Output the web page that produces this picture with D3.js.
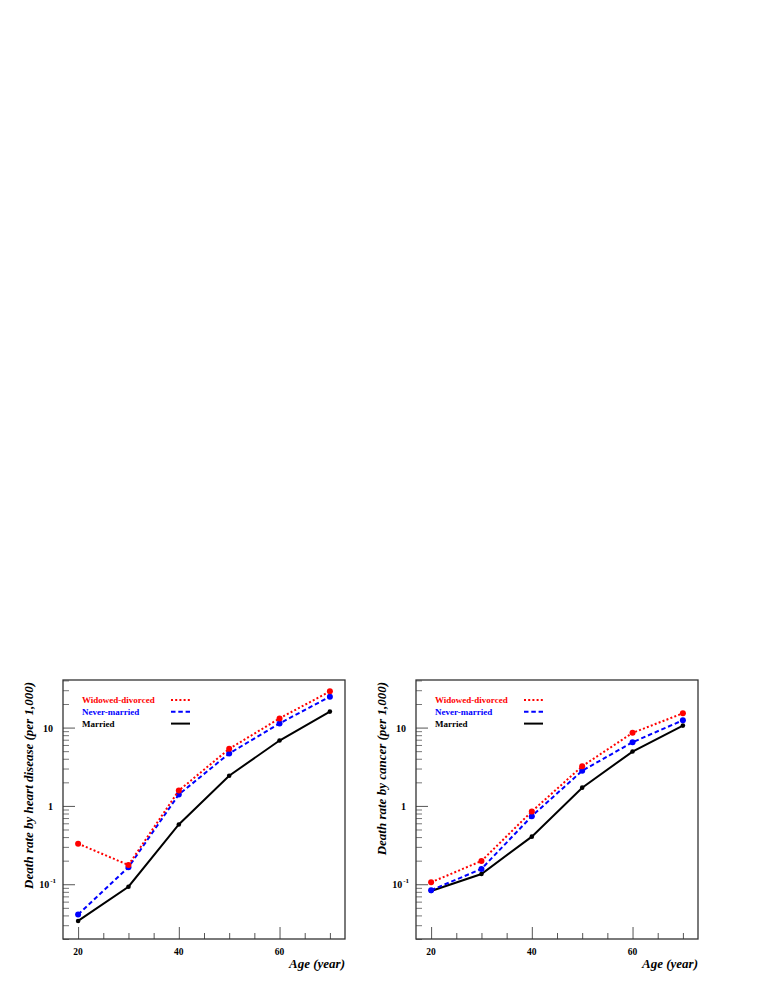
<!DOCTYPE html>
<html><head><meta charset="utf-8">
<script src="https://cdn.jsdelivr.net/npm/d3@7"></script>
<style>
body{margin:0;background:#fff;}
svg{display:block;}
text{font-family:"Liberation Serif","Times New Roman",serif;}
</style></head>
<body>
<script>
const ages = [20, 30, 40, 50, 60, 70];
const seriesNames = ["Widowed-divorced", "Never-married", "Married"];
// Heart disease death rate (per 1,000)
const heartWidowed = [0.33, 0.176, 1.57, 5.35, 13.1, 29.0];
const heartNever   = [0.041, 0.165, 1.40, 4.67, 11.3, 24.8];
const heartMarried = [0.034, 0.093, 0.58, 2.43, 6.83, 16.0];
// Cancer death rate (per 1,000)
const cancerWidowed = [0.106, 0.198, 0.85, 3.21, 8.56, 15.2];
const cancerNever   = [0.084, 0.157, 0.74, 2.81, 6.5, 12.4];
const cancerMarried = [0.082, 0.135, 0.405, 1.71, 4.94, 10.6];
const xMajorTicks = [20, 40, 60];
const xMinorTicks = [25, 30, 35, 45, 50, 55, 65, 70];
const yMajorTicks = [0.1, 1, 10];
const yTickLabels = [["10","-1"], ["1",""], ["10",""]];
const panelTitles = ["Death rate by heart disease (per 1,000)", "Death rate by cancer (per 1,000)"];
const xTitle = "Age (year)";

const W = 763, H = 987;
const svg = d3.select("body").append("svg").attr("width", W).attr("height", H);

const colors = ["#ff0000", "#0000ff", "#000000"];
const dashes = ["2,2.2", "4.5,2.8", null];
const radii = [3, 3, 2.3];

const yMinor = [];
[0.01, 0.1, 1, 10].forEach(d => { for (let k = 2; k <= 9; k++) { const v = +(d * k).toPrecision(3); if (v >= 0.02 && v <= 40) yMinor.push(v); } });

function panel(left, data, title) {
  const right = left + 282, top = 680, bottom = 939;
  const x = d3.scaleLinear().domain([17, 73]).range([left, right]);
  const y = d3.scaleLog().domain([0.02, 40.5]).range([bottom, top]);
  const g = svg.append("g");

  // x ticks
  g.append("g").attr("transform", `translate(0,${bottom})`)
    .call(d3.axisBottom(x).tickValues(xMajorTicks).tickSize(-12).tickFormat(""))
    .call(a => a.select(".domain").remove())
    .call(a => a.selectAll("line").attr("stroke", "#555"));
  g.append("g").attr("transform", `translate(0,${bottom})`)
    .call(d3.axisBottom(x).tickValues(xMinorTicks).tickSize(-6).tickFormat(""))
    .call(a => a.select(".domain").remove())
    .call(a => a.selectAll("line").attr("stroke", "#555"));
  // y ticks
  g.append("g").attr("transform", `translate(${left},0)`)
    .call(d3.axisLeft(y).tickValues(yMajorTicks).tickSize(-12).tickFormat(""))
    .call(a => a.select(".domain").remove())
    .call(a => a.selectAll("line").attr("stroke", "#555"));
  g.append("g").attr("transform", `translate(${left},0)`)
    .call(d3.axisLeft(y).tickValues(yMinor).tickSize(-6).tickFormat(""))
    .call(a => a.select(".domain").remove())
    .call(a => a.selectAll("line").attr("stroke", "#777"));

  // frame
  g.append("rect").attr("x", left).attr("y", top).attr("width", right - left).attr("height", bottom - top)
    .attr("fill", "none").attr("stroke", "#333").attr("stroke-width", 1.3);

  // x labels
  g.selectAll(".xl").data(xMajorTicks).join("text")
    .attr("x", d => x(d)).attr("y", bottom + 16)
    .attr("text-anchor", "middle").attr("font-weight", "bold").attr("font-size", 9.5)
    .text(d => d);
  // y labels
  yMajorTicks.forEach((v, i) => {
    const [base, sup] = yTickLabels[i];
    const t = g.append("text").attr("x", sup ? left - 7 : left - 10).attr("y", y(v) + 4)
      .attr("text-anchor", "end").attr("font-weight", "bold").attr("font-size", 10);
    t.append("tspan").text(base);
    if (sup) t.append("tspan").attr("dy", -5).attr("font-size", 7).attr("dx", 1).text(sup);
  });

  // titles
  g.append("text").attr("transform", `translate(${left - 30},${top + 2}) rotate(-90)`)
    .attr("text-anchor", "end").attr("font-weight", "bold").attr("font-style", "italic")
    .attr("font-size", 13).text(title);
  g.append("text").attr("x", right).attr("y", bottom + 29)
    .attr("text-anchor", "end").attr("font-weight", "bold").attr("font-style", "italic")
    .attr("font-size", 13).text(xTitle);

  // series
  const line = d3.line().x((d, i) => x(ages[i])).y(d => y(d));
  data.slice().reverse().forEach((vals, ri) => {
    const i = data.length - 1 - ri;
    g.append("path").attr("d", line(vals)).attr("fill", "none")
      .attr("stroke", colors[i]).attr("stroke-width", 2)
      .attr("stroke-dasharray", dashes[i]);
    g.selectAll(".pt" + i).data(vals).join("circle")
      .attr("cx", (d, k) => x(ages[k])).attr("cy", d => y(d)).attr("r", radii[i])
      .attr("fill", colors[i]);
  });

  // legend
  seriesNames.forEach((name, i) => {
    const ly = 700 + i * 11.8;
    g.append("text").attr("x", left + 19).attr("y", ly + 3.3)
      .attr("font-weight", "bold").attr("font-size", 9).attr("fill", colors[i]).text(name);
    g.append("line").attr("x1", left + 108).attr("x2", left + 127).attr("y1", ly).attr("y2", ly)
      .attr("stroke", colors[i]).attr("stroke-width", 2).attr("stroke-dasharray", dashes[i]);
  });
}

panel(63, [heartWidowed, heartNever, heartMarried], panelTitles[0]);
panel(416, [cancerWidowed, cancerNever, cancerMarried], panelTitles[1]);
</script>
</body></html>
